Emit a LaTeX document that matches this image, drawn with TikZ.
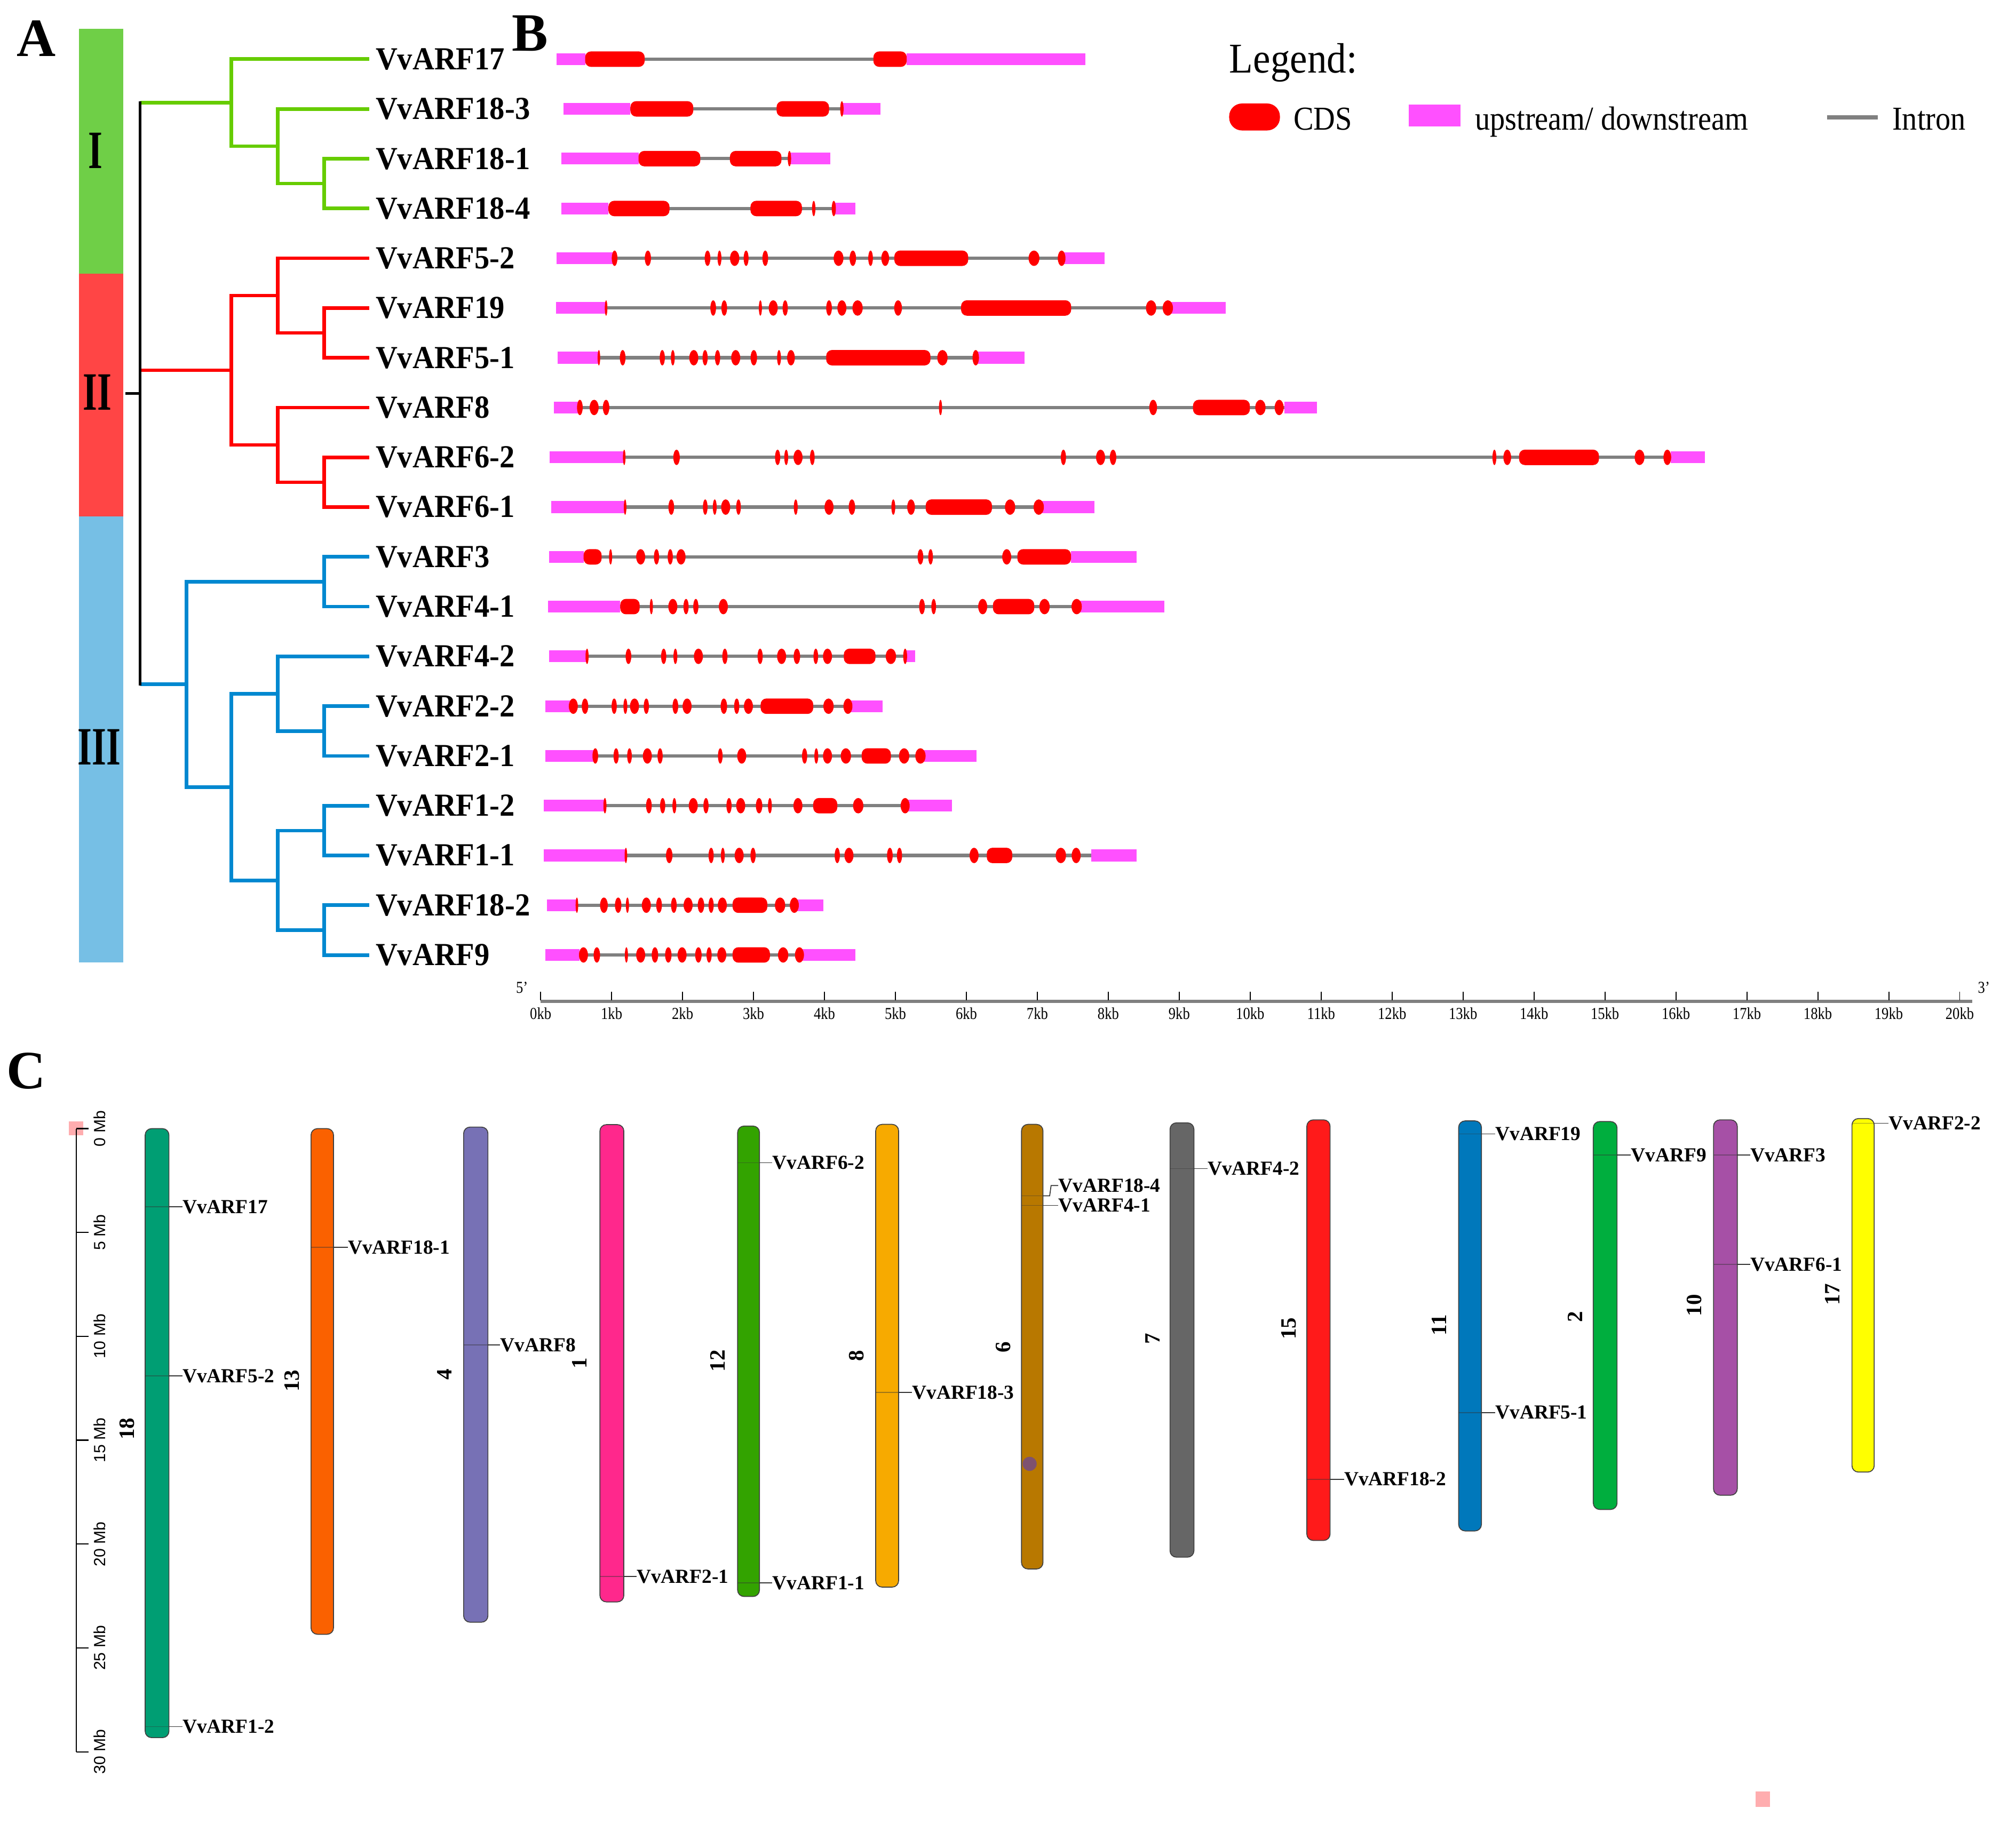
\documentclass[tikz,border=0pt]{standalone}
\usepackage{fontspec}
\setmainfont{Liberation Serif}
\newfontfamily\sansf{Liberation Sans}
\definecolor{treeg}{HTML}{66CC00}
\definecolor{treer}{HTML}{FF0000}
\definecolor{treeb}{HTML}{0088D0}
\definecolor{barg}{HTML}{6FCF47}
\definecolor{barr}{HTML}{FF4545}
\definecolor{barb}{HTML}{76BFE5}
\definecolor{utrpink}{HTML}{FF50FF}
\definecolor{cdsred}{HTML}{FF0000}
\definecolor{introngray}{HTML}{808080}
\definecolor{sqpink}{HTML}{FFADAF}
\definecolor{dotc}{HTML}{7E5270}
\definecolor{c18}{HTML}{009E73}
\definecolor{c13}{HTML}{FA6100}
\definecolor{c4}{HTML}{7771B5}
\definecolor{c1}{HTML}{FF288C}
\definecolor{c12}{HTML}{33A300}
\definecolor{c8}{HTML}{F7AA00}
\definecolor{c6}{HTML}{B87800}
\definecolor{c7}{HTML}{666666}
\definecolor{c15}{HTML}{FF1A1A}
\definecolor{c11}{HTML}{0078BB}
\definecolor{c2}{HTML}{00AE3E}
\definecolor{c10}{HTML}{A650A6}
\definecolor{c17}{HTML}{FFFF00}
\tikzset{
 leaf/.style={anchor=west, inner sep=0pt, font=\bfseries\fontsize{25}{25}\selectfont, xscale=0.94},
 clab/.style={anchor=west, inner sep=0pt, font=\bfseries\fontsize{15.5}{15.5}\selectfont},
 panel/.style={anchor=base west, inner sep=0pt, font=\bfseries\fontsize{42}{42}\selectfont},
 roman/.style={inner sep=0pt, font=\bfseries\fontsize{42}{42}\selectfont, xscale=0.68},
 lg/.style={anchor=base west, inner sep=0pt, font=\fontsize{26}{26}\selectfont, xscale=0.9},
 tk/.style={inner sep=0pt, font=\fontsize{13}{13}\selectfont, xscale=0.85},
 mb/.style={inner sep=0pt, font=\sansf\fontsize{12.5}{12.5}\selectfont, rotate=90},
 chrn/.style={inner sep=0pt, font=\bfseries\fontsize{17}{17}\selectfont, rotate=90},
 tg/.style={draw=treeg, line width=2.8pt},
 tr/.style={draw=treer, line width=2.8pt},
 tb/.style={draw=treeb, line width=2.8pt},
 tblack/.style={draw=black, line width=2.2pt},
 intr/.style={draw=introngray, line width=2.6pt},
 utr/.style={fill=utrpink},
 cds/.style={fill=cdsred},
 chrom/.style={draw=black!75, line width=0.7pt, rounded corners=5pt},
 mk/.style={draw=black!80, line width=0.7pt},
 tick/.style={draw=black, line width=0.8pt},
 axisl/.style={draw=introngray, line width=2.5pt},
}
\newcommand\gn[5]{\draw[intr] (#3,#1) -- (#4,#1);
 \fill[utr] (#2,#1-4.6) rectangle (#3,#1+4.6);
 \fill[utr] (#4,#1-4.6) rectangle (#5,#1+4.6);}
\newcommand\bc[3]{\fill[cds, rounded corners=4.5pt] (#2,#1-6) rectangle (#3,#1+6);}
\newcommand\ov[2]{\foreach \c/\w in {#2}{\fill[cds] (\c,#1) ellipse [x radius=\w, y radius=6];}}
\newcommand\gmark[6]{% name, text, x1, x2, y, textx
 \node[clab] (#1) at (#6,#5) {#2};
 \draw[mk, opacity=.45] (#3,#5) -- (#4,#5);
 \draw[mk] (#4,#5) -- (#1.west);}
\begin{document}
\begin{tikzpicture}[x=1pt,y=-1pt]
\useasboundingbox (0,0) rectangle (1568,1425);
% ---------------- Panel A ----------------
\node[panel] (pA) at (13,43.7) {A};
\node[panel] (pB) at (398,39.7) {B};
\fill[barg] (61.3,22.5) rectangle (96,213);
\fill[barr] (61.3,213) rectangle (96,401.7);
\fill[barb] (61.3,401.7) rectangle (96,748.9);
\node[roman] (rI) at (74.3,117.2) {I};
\node[roman] (rII) at (75.7,305.3) {II};
\node[roman] (rIII) at (77.2,581) {III};
\foreach \i/\nm in {0/17,1/18-3,2/18-1,3/18-4,4/5-2,5/19,6/5-1,7/8,8/6-2,9/6-1,10/3,11/4-1,12/4-2,13/2-2,14/2-1,15/1-2,16/1-1,17/18-2,18/9}{
 \coordinate (t\i) at (287,46+38.72*\i);
 \node[leaf] (n\i) at (292,46+38.72*\i) {VvARF\nm};
}
% internal nodes
\coordinate (g3) at (252,142.8);
\coordinate (g2) at (216,113.75);
\coordinate (g1) at (180,79.9);
\coordinate (r4) at (252,258.95);
\coordinate (r3) at (216,229.9);
\coordinate (r6) at (252,375.15);
\coordinate (r5) at (216,346.1);
\coordinate (r1) at (180,288.0);
\coordinate (b7) at (252,452.55);
\coordinate (b5) at (252,568.75);
\coordinate (b4) at (216,539.7);
\coordinate (b9) at (252,646.15);
\coordinate (b10) at (252,723.55);
\coordinate (b8) at (216,684.85);
\coordinate (b3) at (180,612.3);
\coordinate (b1) at (145,532.4);
\coordinate (root) at (109,306.15);
\coordinate (stub) at (97.5,306.15);
% green clade
\draw[tg] (g3) |- (t2); \draw[tg] (g3) |- (t3);
\draw[tg] (g2) |- (t1); \draw[tg] (g2) |- (g3);
\draw[tg] (g1) |- (t0); \draw[tg] (g1) |- (g2);
\draw[tg] (root |- g1) -- (g1);
% red clade
\draw[tr] (r4) |- (t5); \draw[tr] (r4) |- (t6);
\draw[tr] (r3) |- (t4); \draw[tr] (r3) |- (r4);
\draw[tr] (r6) |- (t8); \draw[tr] (r6) |- (t9);
\draw[tr] (r5) |- (t7); \draw[tr] (r5) |- (r6);
\draw[tr] (r1) |- (r3); \draw[tr] (r1) |- (r5);
\draw[tr] (root |- r1) -- (r1);
% blue clade
\draw[tb] (b7) |- (t10); \draw[tb] (b7) |- (t11);
\draw[tb] (b5) |- (t13); \draw[tb] (b5) |- (t14);
\draw[tb] (b4) |- (t12); \draw[tb] (b4) |- (b5);
\draw[tb] (b9) |- (t15); \draw[tb] (b9) |- (t16);
\draw[tb] (b10) |- (t17); \draw[tb] (b10) |- (t18);
\draw[tb] (b8) |- (b9); \draw[tb] (b8) |- (b10);
\draw[tb] (b3) |- (b4); \draw[tb] (b3) |- (b8);
\draw[tb] (b1) |- (b7); \draw[tb] (b1) |- (b3);
\draw[tb] (root |- b1) -- (b1);
% root
\draw[tblack, line cap=rect] (root |- g1) -- (root |- b1);
\draw[tblack] (stub) -- (root);
% ---------------- Panel B ----------------
\gn{46}{432.8}{455.1}{705.2}{844.2}
\bc{46}{455.1}{501.4}\bc{46}{679.3}{705.2}
\gn{84.7}{438.4}{490.3}{654.8}{684.8}
\bc{84.7}{490.3}{539.2}\bc{84.7}{604.0}{644.8}
\ov{84.7}{654.8/1.3}
\gn{123.4}{436.5}{496.6}{614.0}{645.9}
\bc{123.4}{496.6}{544.7}\bc{123.4}{567.7}{607.8}
\ov{123.4}{614.0/1.3}
\gn{162.2}{436.5}{473.2}{648.5}{665.2}
\bc{162.2}{473.2}{520.7}\bc{162.2}{583.7}{623.7}
\ov{162.2}{632.9/1.3,648.5/1.6}
\gn{200.9}{432.8}{478.0}{825.7}{859.0}
\bc{200.9}{695.6}{753.0}
\ov{200.9}{478.0/2.2,503.9/2.4,550.3/2.2,559.6/1.5,571.4/3.6,580.3/1.9,595.2/2.2,652.2/3.8,663.3/2.5,677.1/1.8,688.5/3,804.2/4.2,825.7/3}
\gn{239.6}{432.5}{471.4}{908.3}{953.5}
\bc{239.6}{747.5}{833.1}
\ov{239.6}{471.4/1,554.7/2.2,563.3/2.2,591.4/1.2,601.4/3.5,610.7/2,644.8/2.2,654.8/3.5,667.0/4,698.5/3,895.3/4,908.3/4}
\gn{278.3}{433.6}{465.8}{758.9}{796.8}
\bc{278.3}{642.6}{723.7}
\ov{278.3}{465.8/1,484.3/2.2,515.1/2,523.3/1.5,539.6/3.5,548.4/2,558.1/2,572.2/3.5,586.3/2.5,605.9/1.5,615.2/3,733.0/4,758.9/2.5}
\gn{317.0}{431.0}{451.0}{998.8}{1024.4}
\bc{317.0}{927.9}{972.1}
\ov{317.0}{451.0/2.2,462.1/3.5,471.4/2.5,731.5/1.2,896.9/3,980.3/4,994.9/3.5}
\gn{355.8}{427.3}{485.5}{1299.3}{1326.1}
\bc{355.8}{1181.5}{1243.6}
\ov{355.8}{485.5/1,526.2/2.5,604.8/2,611.5/1.5,620.7/3.5,631.8/1.8,827.1/2,856.0/3.5,865.7/2.5,1162.3/1.5,1172.3/3,1275.2/3.8,1296.8/3}
\gn{394.5}{428.8}{486.2}{807.9}{851.2}
\bc{394.5}{720.0}{771.5}
\ov{394.5}{486.2/1,522.1/2.2,548.5/1.8,555.9/1.5,564.4/3.5,574.4/1.8,618.9/1.5,644.8/3.5,662.6/2.5,694.8/1.5,708.6/3,785.6/4,807.9/4}
\gn{433.2}{427.2}{453.9}{833.0}{884.2}
\bc{433.2}{453.9}{467.9}\bc{433.2}{791.3}{833.0}
\ov{433.2}{474.9/1.2,498.3/3.5,510.6/2,521.3/2,529.7/3.5,715.9/2.2,723.8/1.8,783.0/3.5}
\gn{471.9}{426.1}{482.4}{837.4}{905.7}
\bc{471.9}{482.4}{497.5}\bc{471.9}{772.3}{804.4}
\ov{471.9}{506.6/1.2,523.3/3.5,533.6/2,541.2/2,562.6/3.5,717.1/2.2,726.2/1.8,764.3/3.5,812.4/4,837.4/4}
\gn{510.6}{427.2}{456.6}{704.0}{711.9}
\bc{510.6}{656.3}{680.9}
\ov{510.6}{456.6/1.2,488.8/2.2,516.2/2,525.3/1.5,543.2/3.5,563.8/2,591.2/2,607.9/3.5,619.8/2.5,634.5/1.8,643.6/3.5,692.9/4,704.0/1.5}
\gn{549.4}{424.1}{445.9}{659.5}{686.5}
\bc{549.4}{591.6}{632.5}
\ov{549.4}{445.9/3.5,455.0/2.5,477.7/2,486.4/1.5,493.5/3.5,502.7/2,525.3/2.2,534.4/3.5,563.0/2.5,573.0/2,582.1/3.5,644.4/4,659.5/3.5}
\gn{588.1}{424.1}{463.0}{715.9}{759.5}
\bc{588.1}{670.2}{692.9}
\ov{588.1}{463.0/2.2,479.2/2,489.6/1.8,503.5/3.5,513.4/2,560.2/1.8,576.9/3.5,625.8/2,634.9/1.5,643.6/3.5,657.9/4,703.2/4,715.9/4}
\gn{626.8}{422.9}{470.5}{704.0}{740.5}
\bc{626.8}{632.5}{651.2}
\ov{626.8}{470.5/1.2,504.7/2.2,515.4/2,524.5/1.5,539.2/3.5,549.1/2,567.0/2,576.1/3.5,590.4/2.5,598.8/1.5,620.6/3.5,667.5/4,704.0/3.5}
\gn{665.5}{422.9}{486.8}{848.9}{884.2}
\bc{665.5}{767.5}{787.3}
\ov{665.5}{486.8/1,520.5/2.5,553.1/2,562.2/1.5,574.9/3.5,585.7/2,651.2/2,660.3/3.5,692.1/2.2,699.6/2,757.6/3.5,825.1/4,837.0/3.5}
\gn{704.2}{425.3}{448.7}{617.8}{640.4}
\bc{704.2}{569.8}{596.8}
\ov{704.2}{448.7/1,469.7/3,480.8/2.5,488.0/1.2,502.7/3.5,512.6/2.2,524.1/2.2,535.2/3.5,545.2/2.5,553.1/2,561.8/3.5,606.7/4,617.8/3.5}
\gn{742.9}{424.1}{450.7}{621.8}{665.1}
\bc{742.9}{569.8}{598.8}
\ov{742.9}{453.8/3.5,464.2/2.5,487.2/1.2,498.3/3.5,509.4/2.5,519.8/2.5,530.5/3.5,543.2/2.5,551.5/2,561.4/3.5,609.1/4,621.8/3.5}
% legend
\node[anchor=base west, inner sep=0pt, font=\fontsize{33}{33}\selectfont, xscale=0.92] (legt) at (956,56.5) {Legend:};
\fill[cds, rounded corners=10pt] (956,80.5) rectangle (995.5,101.5);
\node[lg] (legcds) at (1006,101) {CDS};
\fill[utr] (1095.6,81.2) rectangle (1136,98.2);
\node[lg] (legutr) at (1147,101) {upstream/ downstream};
\coordinate (li1) at (1421,91.3);
\coordinate (li2) at (1460.5,91.3);
\draw[draw=introngray, line width=3.5pt] (li1) -- (li2);
\node[lg] (legin) at (1471.6,101) {Intron};
% axis
\coordinate (ax0) at (420.5,779);
\coordinate (ax1) at (1534,779);
\draw[axisl] (ax0) -- (ax1);
\foreach \k in {0,...,20}{
 \draw[tick] (420.5+55.185*\k,771.5) -- (420.5+55.185*\k,778);
 \node[tk] (kb\k) at (420.5+55.185*\k,788.5) {\k kb};
}
\node[tk] (p5) at (406,768.5) {5'};
\node[tk] (p3) at (1543,768.5) {3'};
% ---------------- Panel C ----------------
\node[panel] (pC) at (5,847) {C};
\fill[sqpink] (53.4,872.2) rectangle (64.7,883.3);
\fill[sqpink] (1365.5,1393.8) rectangle (1376.5,1405.6);
\coordinate (ru0) at (59.5,878);
\coordinate (ru1) at (59.5,1362.8);
\draw[line width=0.9pt] (ru0) -- (ru1);
\foreach \m in {0,5,10,15,20,25,30}{
 \draw[line width=0.9pt] (59.5,878+16.16*\m) -- (68.8,878+16.16*\m);
 \node[mb] (mb\m) at (77.4,878+16.16*\m) {\m\ Mb};
}
% chromosomes
\draw[chrom, fill=c18] (112.9,878.0) rectangle (131.4,1351.8);
\draw[chrom, fill=c13] (241.9,878.0) rectangle (259.4,1271.4);
\draw[chrom, fill=c4] (360.6,876.8) rectangle (379.5,1262);
\draw[chrom, fill=c1] (466.6,874.9) rectangle (485.2,1246.2);
\draw[chrom, fill=c12] (573.7,876) rectangle (590.7,1242);
\draw[chrom, fill=c8] (681.1,874.7) rectangle (698.9,1234.7);
\draw[chrom, fill=c6] (794.5,874.7) rectangle (811.2,1220.6);
\draw[chrom, fill=c7] (910,873.5) rectangle (928.6,1211.4);
\draw[chrom, fill=c15] (1016.4,871.2) rectangle (1034.5,1198.4);
\draw[chrom, fill=c11] (1134.5,872) rectangle (1152.2,1191);
\draw[chrom, fill=c2] (1239.2,872.5) rectangle (1257.7,1174.3);
\draw[chrom, fill=c10] (1332.7,871.2) rectangle (1351.2,1163.2);
\draw[chrom, fill=c17] (1440.4,870.2) rectangle (1457.7,1145.2);
\fill[dotc] (800.8,1138.8) circle [radius=5.5];
% chromosome numbers
\node[chrn] (k18) at (98.8,1111.6) {18};
\node[chrn] (k13) at (227.1,1074.3) {13};
\node[chrn] (k4) at (345.8,1069.2) {4};
\node[chrn] (k1) at (450.7,1060.6) {1};
\node[chrn] (k12) at (558.1,1058.6) {12};
\node[chrn] (k8) at (666.3,1054.7) {8};
\node[chrn] (k6) at (780.4,1048) {6};
\node[chrn] (k7) at (896.4,1041.4) {7};
\node[chrn] (k15) at (1002.2,1033.5) {15};
\node[chrn] (k11) at (1119.4,1030.8) {11};
\node[chrn] (k2) at (1225,1024.2) {2};
\node[chrn] (k10) at (1317.6,1015.5) {10};
\node[chrn] (k17) at (1425.4,1007) {17};
% gene markers
\gmark{m17}{VvARF17}{112.9}{131.4}{938.9}{141.8}
\gmark{m52}{VvARF5-2}{112.9}{131.4}{1070.4}{141.8}
\gmark{m12}{VvARF1-2}{112.9}{131.4}{1343.2}{141.8}
\gmark{m181}{VvARF18-1}{241.9}{259.4}{970.3}{270.5}
\gmark{m8}{VvARF8}{360.6}{379.5}{1046.4}{389}
\gmark{m21}{VvARF2-1}{466.6}{485.2}{1226.4}{495}
\gmark{m62}{VvARF6-2}{573.7}{590.7}{904.6}{600.7}
\gmark{m11}{VvARF1-1}{573.7}{590.7}{1231.5}{600.7}
\gmark{m183}{VvARF18-3}{681.1}{698.9}{1083.3}{709.3}
\gmark{m41}{VvARF4-1}{794.5}{811.2}{937.7}{823.1}
\node[clab] (m184) at (823.1,922.3) {VvARF18-4};
\draw[mk, opacity=.45] (794.5,930.3) -- (811.2,930.3);
\draw[mk] (811.2,930.3) -- (816.4,930.3) -- (817.5,922.3) -- (m184.west);
\gmark{m42}{VvARF4-2}{910}{928.6}{909.1}{939.1}
\gmark{m182}{VvARF18-2}{1016.4}{1034.5}{1150.8}{1045.3}
\gmark{m19}{VvARF19}{1134.5}{1152.2}{882.1}{1162.9}
\gmark{m51}{VvARF5-1}{1134.5}{1152.2}{1098.9}{1162.9}
\gmark{m9}{VvARF9}{1239.2}{1257.7}{898.5}{1268.5}
\gmark{m3}{VvARF3}{1332.7}{1351.2}{898.5}{1361.2}
\gmark{m61}{VvARF6-1}{1332.7}{1351.2}{983.7}{1361.2}
\gmark{m22}{VvARF2-2}{1440.4}{1457.7}{873.9}{1468.9}
\end{tikzpicture}
\end{document}
